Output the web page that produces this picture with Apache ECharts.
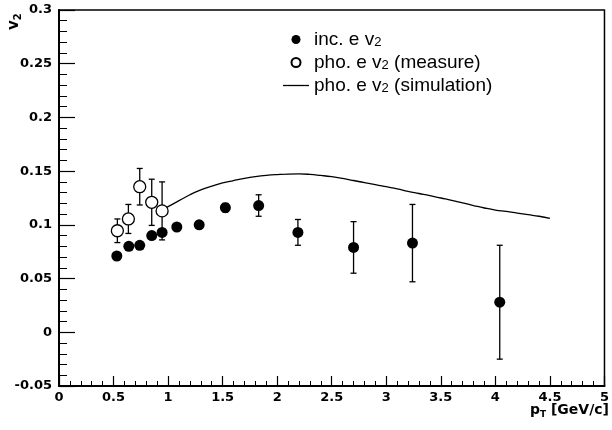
<!DOCTYPE html>
<html><head><meta charset="utf-8">
<script src="https://cdn.jsdelivr.net/npm/echarts@6/dist/echarts.min.js"></script>
<style>html,body{margin:0;padding:0;background:#fff}#c{width:612px;height:430px}</style>
</head><body><div id="c"></div>
<script>
// inclusive electron v2
const incPt  = [0.53, 0.64, 0.74, 0.85, 0.945, 1.08, 1.285, 1.525, 1.83, 2.19, 2.70, 3.24, 4.04];
const incV2  = [0.071, 0.080, 0.081, 0.090, 0.093, 0.098, 0.100, 0.116, 0.118, 0.093, 0.079, 0.083, 0.028];
const incErr = [0.003, 0.003, 0.003, 0.003, 0.003, 0.003, 0.003, 0.004, 0.010, 0.012, 0.024, 0.036, 0.053];
// photonic electron v2 (measured)
const phoPt  = [0.535, 0.636, 0.74, 0.85, 0.945];
const phoV2  = [0.0945, 0.1055, 0.1355, 0.121, 0.113];
const phoErr = [0.011, 0.0135, 0.017, 0.0215, 0.027];
// photonic electron v2 (simulation)
const simPt = [0.95,1.0,1.1,1.2,1.3,1.4,1.5,1.6,1.7,1.8,1.9,2.0,2.1,2.2,2.3,2.4,2.5,2.6,2.7,2.8,2.9,3.0,3.1,3.2,3.3,3.4,3.5,3.6,3.7,3.8,3.9,4.0,4.1,4.2,4.3,4.4,4.5];
const simV2 = [0.114,0.117,0.1225,0.128,0.1325,0.136,0.139,0.1412,0.1432,0.1448,0.146,0.1468,0.1473,0.1474,0.147,0.146,0.1448,0.1432,0.1413,0.1393,0.1375,0.1355,0.1335,0.1312,0.1292,0.1272,0.125,0.1228,0.1204,0.118,0.1157,0.1138,0.1125,0.111,0.1095,0.108,0.106];
// names
const seriesNames = ['inc. e v2', 'pho. e v2 (measure)', 'pho. e v2 (simulation)'];
const legendLabels = ['inc. e v{s|2}', 'pho. e v{s|2} (measure)', 'pho. e v{s|2} (simulation)'];
const xTitle = 'p{s|T} [GeV/c]';
const yTitle = 'v{s|2}';

const FONT = '"Liberation Sans", Arial, sans-serif';
const BFONT = '"DejaVu Sans", sans-serif';
const incData = incPt.map((x, i) => [x, incV2[i]]);
const incErrData = incPt.map((x, i) => [x, incV2[i] - incErr[i], incV2[i] + incErr[i]]);
const phoData = phoPt.map((x, i) => [x, phoV2[i]]);
const phoErrData = phoPt.map((x, i) => [x, phoV2[i] - phoErr[i], phoV2[i] + phoErr[i]]);
const simData = simPt.map((x, i) => [x, simV2[i]]);

function errRender(params, api) {
  const x = api.value(0);
  const lo = api.coord([x, api.value(1)]);
  const hi = api.coord([x, api.value(2)]);
  const cw = 3;
  const st = { stroke: '#000', lineWidth: 1.3 };
  return { type: 'group', children: [
    { type: 'line', shape: { x1: lo[0], y1: lo[1], x2: hi[0], y2: hi[1] }, style: st },
    { type: 'line', shape: { x1: lo[0]-cw, y1: lo[1], x2: lo[0]+cw, y2: lo[1] }, style: st },
    { type: 'line', shape: { x1: hi[0]-cw, y1: hi[1], x2: hi[0]+cw, y2: hi[1] }, style: st }
  ]};
}

const chart = echarts.init(document.getElementById('c'), null, { renderer: 'canvas' });
const tickFont = { fontFamily: BFONT, fontWeight: 'bold', fontSize: 13, color: '#000' };
chart.setOption({
  animation: false,
  backgroundColor: '#fff',
  grid: { left: 59, right: 3, top: 10, bottom: 44, show: true, borderColor: '#000', borderWidth: 1.5, backgroundColor: 'transparent' },
  xAxis: {
    type: 'value', min: 0, max: 5, interval: 0.5,
    axisLine: { show: true, onZero: false, lineStyle: { color: '#000', width: 2 } },
    axisTick: { show: true, inside: true, length: 10, lineStyle: { color: '#000', width: 1.2 } },
    minorTick: { show: true, splitNumber: 5, length: 5, lineStyle: { color: '#000', width: 1 } },
    splitLine: { show: false },
    axisLabel: Object.assign({ margin: 5, formatter: v => String(+v.toFixed(2)) }, tickFont)
  },
  yAxis: {
    type: 'value', min: -0.05, max: 0.3, interval: 0.05,
    axisLine: { show: true, onZero: false, lineStyle: { color: '#000', width: 2 } },
    axisTick: { show: true, inside: true, length: 16, lineStyle: { color: '#000', width: 1.2 } },
    minorTick: { show: true, splitNumber: 5, length: 8, lineStyle: { color: '#000', width: 1 } },
    splitLine: { show: false },
    axisLabel: Object.assign({ margin: 7, formatter: v => String(+v.toFixed(2)) }, tickFont)
  },
  legend: {
    orient: 'vertical', left: 283, top: 29, padding: 0, itemWidth: 26, itemHeight: 9, itemGap: 3,
    selectedMode: false,
    data: [
      { name: seriesNames[0], icon: 'circle' },
      { name: seriesNames[1], icon: 'circle' },
      { name: seriesNames[2], icon: 'path://M0,0 L100,0 L100,5 L0,5 Z', itemStyle: { color: '#000' } }
    ],
    formatter: name => legendLabels[seriesNames.indexOf(name)],
    textStyle: {
      fontFamily: FONT, fontSize: 19, color: '#000', lineHeight: 19,
      rich: { s: { fontFamily: FONT, fontSize: 13, lineHeight: 12, verticalAlign: 'bottom', padding: [7, 0, 0, 0] } }
    }
  },
  graphic: [
    { type: 'text', x: 609, y: 402, style: { text: xTitle, fontFamily: BFONT, fontWeight: 'bold', fontSize: 14, fill: '#000', align: 'right',
      rich: { s: { fontFamily: BFONT, fontWeight: 'bold', fontSize: 9, padding: [8, 0, 0, 0] } } } },
    { type: 'text', x: 5, y: 30, rotation: Math.PI / 2, style: { text: yTitle, fontFamily: BFONT, fontWeight: 'bold', fontSize: 15, fill: '#000', align: 'left',
      rich: { s: { fontFamily: BFONT, fontWeight: 'bold', fontSize: 10, padding: [8, 0, 0, 0] } } } }
  ],
  series: [
    { type: 'custom', name: 'errInc', renderItem: errRender, data: incErrData, z: 1, encode: { x: 0, y: [1, 2] }, silent: true },
    { type: 'custom', name: 'errPho', renderItem: errRender, data: phoErrData, z: 1, encode: { x: 0, y: [1, 2] }, silent: true },
    { type: 'line', name: seriesNames[2], data: simData, smooth: true, symbol: 'none', showSymbol: false,
      lineStyle: { color: '#000', width: 1.3 }, itemStyle: { color: '#000' }, z: 2 },
    { type: 'scatter', name: seriesNames[0], data: incData, symbol: 'circle', symbolSize: 11,
      itemStyle: { color: '#000', opacity: 1 }, z: 3 },
    { type: 'scatter', name: seriesNames[1], data: phoData, symbol: 'circle', symbolSize: 12,
      itemStyle: { color: '#fff', borderColor: '#000', borderWidth: 1.3, opacity: 1 }, z: 3 }
  ]
});
</script></body></html>
